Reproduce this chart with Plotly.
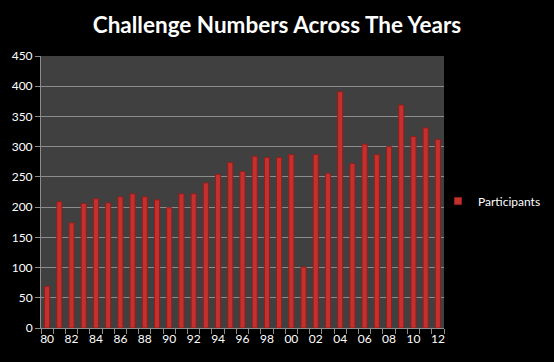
import plotly.graph_objects as go

years = ["80","81","82","83","84","85","86","87","88","89","90","91","92","93","94","95","96",
         "97","98","99","00","01","02","03","04","05","06","07","08","09","10","11","12"]
participants = [69,209,174,206,214,207,217,222,217,212,199,222,222,240,254,274,259,
                284,282,282,287,101,287,256,391,272,304,287,300,369,317,331,312]
tick_text = [y if i % 2 == 0 else "" for i, y in enumerate(years)]
y_ticks = list(range(0, 451, 50))

fig = go.Figure()
fig.add_trace(go.Bar(
    x=years, y=participants, name="Participants",
    marker=dict(color="#c4302d", line=dict(color="#8e1f1d", width=1)),
    showlegend=False,
))
fig.add_trace(go.Scatter(
    x=[None], y=[None], mode="markers", name="Participants",
    marker=dict(symbol="square", size=7, color="#c4302d", line=dict(color="#8e1f1d", width=1)),
    showlegend=True,
))

fig.update_layout(
    width=554, height=362,
    margin=dict(l=41, r=110, t=56, b=34, autoexpand=False),
    paper_bgcolor="black", plot_bgcolor="#404040",
    bargap=0.58,
    title=dict(text="<b>Challenge Numbers Across The Years</b>",
               x=0.5, xanchor="center", y=0.93, yanchor="middle",
               font=dict(family="Lato", size=22.5, color="white")),
    font=dict(family="Lato", size=12, color="white"),
    showlegend=True,
    legend=dict(x=0.985, xanchor="left", y=0.467, yanchor="middle",
                font=dict(family="Lato", size=12, color="white"),
                itemwidth=30, bgcolor="rgba(0,0,0,0)"),
)
fig.update_xaxes(
    type="category", tickvals=years, ticktext=tick_text, tickson="boundaries",
    tickangle=0, automargin=False,
    ticks="outside", ticklen=5, tickcolor="#8c8c8c",
    showline=True, linecolor="#8c8c8c", linewidth=1,
    showgrid=False, tickfont=dict(color="white", size=12),
)
fig.update_yaxes(
    range=[0, 450], tickvals=y_ticks, ticks="outside", ticklen=5, tickcolor="#8c8c8c",
    showline=True, linecolor="#8c8c8c", linewidth=1, automargin=False,
    showgrid=True, gridcolor="#8c8c8c", gridwidth=1, zeroline=False,
    tickfont=dict(color="white", size=12),
)

fig.write_html("out.html")
